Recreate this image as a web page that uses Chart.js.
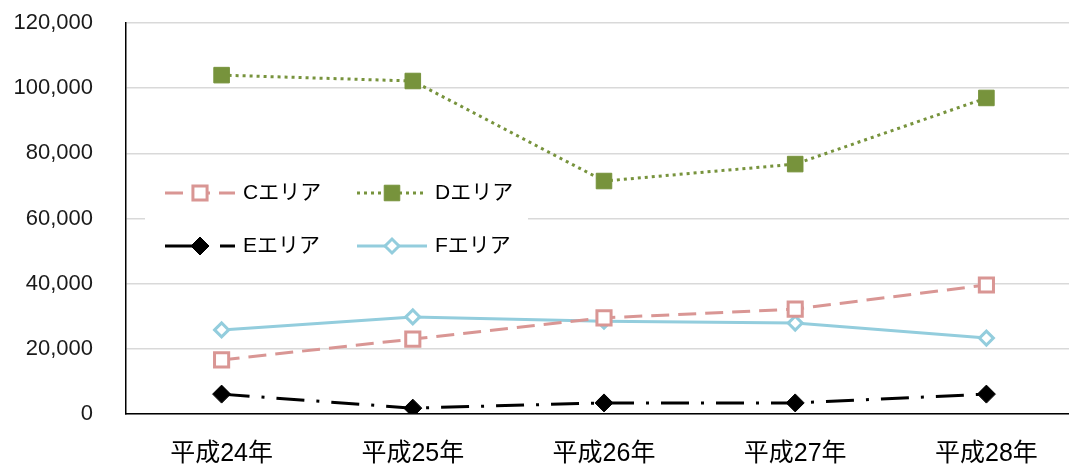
<!DOCTYPE html>
<html>
<head>
<meta charset="utf-8">
<script src="https://cdn.jsdelivr.net/npm/chart.js@4"></script>
<style>
  html, body { margin: 0; padding: 0; background: #fff; overflow: hidden; }
  #wrap { width: 1082px; height: 468px; }
</style>
</head>
<body>
<div id="wrap"><canvas id="chart"></canvas></div>
<script>
// Data
const categories = ['平成24年', '平成25年', '平成26年', '平成27年', '平成28年'];
const areaC = [16600, 23000, 29500, 32200, 39600];
const areaD = [104000, 102200, 71500, 76700, 97000];
const areaE = [6100, 1800, 3400, 3400, 6100];
const areaF = [25800, 29800, 28500, 27900, 23300];
const yTicks = [0, 20000, 40000, 60000, 80000, 100000, 120000];

const FONT = '"Liberation Sans", "Noto Sans CJK JP", sans-serif';

// Legend drawn inside the plot area, on a white box
const insideLegend = {
  id: 'insideLegend',
  afterDatasetsDraw(chart) {
    const ctx = chart.ctx;
    const ds = chart.data.datasets;
    const items = [
      { i: 0, x: 165, y: 193 },
      { i: 1, x: 357, y: 193 },
      { i: 2, x: 165, y: 246 },
      { i: 3, x: 357, y: 246 }
    ];
    ctx.save();
    ctx.fillStyle = '#ffffff';
    ctx.fillRect(145, 165, 383, 97);
    items.forEach(function(it) {
      const d = ds[it.i];
      ctx.save();
      ctx.strokeStyle = d.borderColor;
      ctx.lineWidth = d.borderWidth;
      ctx.setLineDash(d.borderDash || []);
      ctx.beginPath();
      ctx.moveTo(it.x, it.y);
      ctx.lineTo(it.x + 70, it.y);
      ctx.stroke();
      ctx.setLineDash([]);
      ctx.fillStyle = d.pointBackgroundColor;
      ctx.strokeStyle = d.pointBorderColor;
      ctx.lineWidth = d.pointBorderWidth;
      Chart.helpers.drawPoint(ctx, {
        pointStyle: d.pointStyle,
        radius: d.pointRadius,
        borderWidth: d.pointBorderWidth,
        rotation: 0
      }, it.x + 35, it.y);
      ctx.restore();
      ctx.fillStyle = '#000';
      ctx.font = '21px ' + FONT;
      ctx.textBaseline = 'middle';
      ctx.fillText(d.label, it.x + 78, it.y);
    });
    ctx.restore();
  }
};

new Chart(document.getElementById('chart'), {
  type: 'line',
  data: {
    labels: categories,
    datasets: [
      {
        label: 'Cエリア',
        data: areaC,
        borderColor: '#d99694',
        borderWidth: 3,
        borderDash: [18, 9],
        pointStyle: 'rect',
        pointRadius: 10,
        pointBackgroundColor: '#ffffff',
        pointBorderColor: '#d99694',
        pointBorderWidth: 3
      },
      {
        label: 'Dエリア',
        data: areaD,
        borderColor: '#77933c',
        borderWidth: 3,
        borderDash: [3, 4],
        pointStyle: 'rect',
        pointRadius: 11,
        pointBackgroundColor: '#77933c',
        pointBorderColor: '#77933c',
        pointBorderWidth: 1
      },
      {
        label: 'Eエリア',
        data: areaE,
        borderColor: '#000000',
        borderWidth: 3,
        borderDash: [28, 12, 3, 12],
        pointStyle: 'rectRot',
        pointRadius: 9,
        pointBackgroundColor: '#000000',
        pointBorderColor: '#000000',
        pointBorderWidth: 1
      },
      {
        label: 'Fエリア',
        data: areaF,
        borderColor: '#93cddd',
        borderWidth: 3,
        pointStyle: 'rectRot',
        pointRadius: 7,
        pointBackgroundColor: '#ffffff',
        pointBorderColor: '#93cddd',
        pointBorderWidth: 3
      }
    ]
  },
  options: {
    responsive: true,
    maintainAspectRatio: false,
    animation: false,
    layout: { autoPadding: false, padding: 0 },
    plugins: {
      legend: { display: false },
      tooltip: { enabled: false }
    },
    scales: {
      x: {
        offset: true,
        grid: { display: false, drawTicks: false },
        border: { color: '#000000', width: 1.5 },
        ticks: {
          color: '#000000',
          padding: 25,
          font: { family: FONT, size: 25 }
        },
        afterFit(scale) { scale.height = 54; }
      },
      y: {
        min: 0,
        max: 120000,
        afterBuildTicks(scale) {
          scale.ticks = yTicks.map(v => ({ value: v }));
        },
        grid: { color: '#d9d9d9', lineWidth: 1.5, drawTicks: false },
        border: { color: '#000000', width: 1.5 },
        ticks: {
          color: '#1a1a1a',
          padding: 33,
          font: { family: FONT, size: 22 },
          callback: v => v.toLocaleString('en-US')
        },
        afterFit(scale) {
          scale.width = 126;
          scale.paddingTop = 23;
          scale.paddingBottom = 0;
        }
      }
    }
  },
  plugins: [insideLegend]
});
</script>
</body>
</html>
